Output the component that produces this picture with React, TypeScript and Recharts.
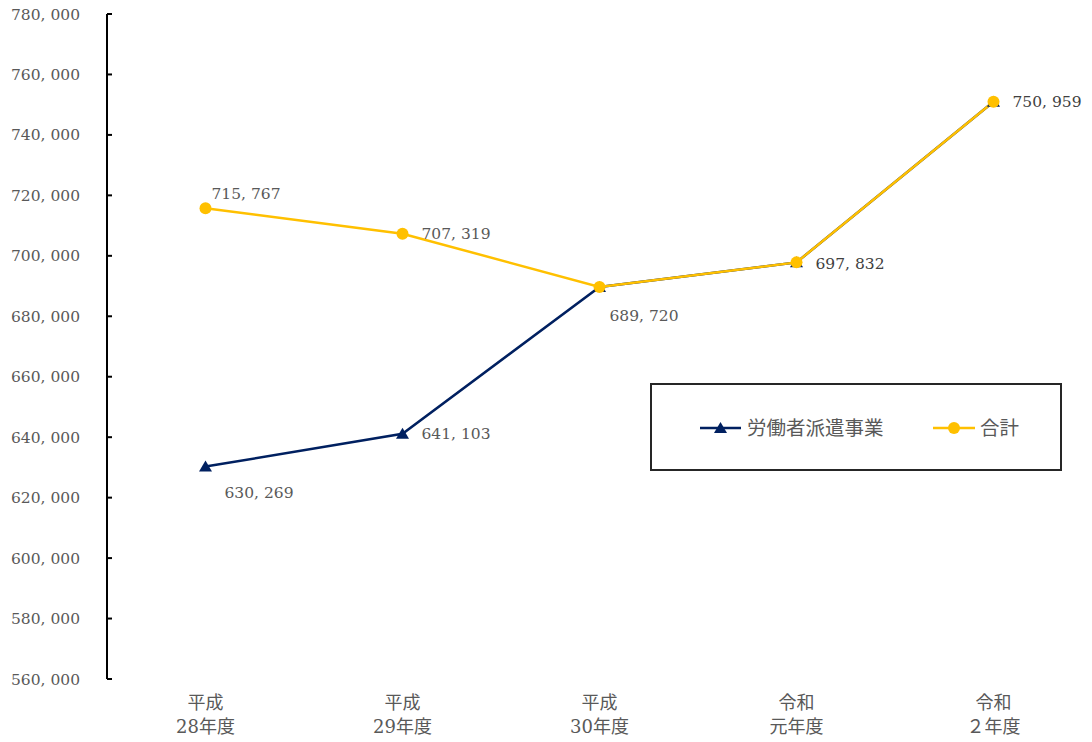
import React from "react";
import { LineChart, Line, XAxis, YAxis, Legend, LabelList } from "recharts";

const categories = ["平成\n28年度", "平成\n29年度", "平成\n30年度", "令和\n元年度", "令和\n２年度"];
const dispatchValues = [630269, 641103, 689720, 697832, 750959];
const totalValues = [715767, 707319, 689720, 697832, 750959];
const yTicks = [560000, 580000, 600000, 620000, 640000, 660000, 680000, 700000, 720000, 740000, 760000, 780000];
const seriesNames = { dispatch: "労働者派遣事業", total: "合計" };

const data = categories.map((c, i) => ({
  i,
  cat: c,
  dispatch: dispatchValues[i],
  total: totalValues[i],
}));

const NAVY = "#002060";
const GOLD = "#FFC000";
const SERIF = "'DejaVu Serif', 'Noto Sans CJK JP', serif";
const CJK = "'Noto Sans CJK JP', sans-serif";
const NUM_SIZE = 15.5;

const fmt = (v: number) => v.toLocaleString("en-US").replace(/,/g, ", ");

// label placement (offset from point) per series/index
const totalLabelPos: Record<number, { dx: number; dy: number; color: string }> = {
  0: { dx: 6, dy: -15, color: "#595959" },
  1: { dx: 19, dy: 0, color: "#595959" },
};
const dispatchLabelPos: Record<number, { dx: number; dy: number; color: string }> = {
  0: { dx: 19, dy: 26, color: "#595959" },
  1: { dx: 19, dy: 0, color: "#595959" },
  2: { dx: 10, dy: 29, color: "#595959" },
  3: { dx: 19, dy: 1, color: "#404040" },
  4: { dx: 19, dy: 0, color: "#404040" },
};

const makeLabel = (pos: Record<number, { dx: number; dy: number; color: string }>) => (props: any) => {
  const { x, y, value, index } = props;
  const p = pos[index];
  if (!p) return null;
  return (
    <text
      x={x + p.dx}
      y={y + p.dy}
      dy="0.36em"
      textAnchor="start"
      fill={p.color}
      fontSize={NUM_SIZE}
      fontFamily={SERIF}
    >
      {fmt(value)}
    </text>
  );
};

const Triangle = (props: any) => {
  const { cx, cy } = props;
  if (cx == null || cy == null) return null;
  return <path d={`M${cx},${cy - 6} L${cx - 6.5},${cy + 5} L${cx + 6.5},${cy + 5} Z`} fill={NAVY} />;
};

const Circle = (props: any) => {
  const { cx, cy } = props;
  if (cx == null || cy == null) return null;
  return <circle cx={cx} cy={cy} r={6} fill={GOLD} />;
};

const XTick = (props: any) => {
  const { x, y, payload } = props;
  const lines = categories[payload.value].split("\n");
  return (
    <text x={x} y={y} textAnchor="middle" fill="#595959" fontSize={18} fontFamily={SERIF}>
      <tspan x={x} dy={30}>{lines[0]}</tspan>
      <tspan x={x} dy={24}>{lines[1]}</tspan>
    </text>
  );
};

const LegendBox = () => (
  <div
    style={{
      width: 412,
      height: 88,
      boxSizing: "border-box",
      border: "2px solid #262626",
      background: "#fff",
      position: "relative",
    }}
  >
    <svg width={412} height={88} style={{ position: "absolute", left: -2, top: -2 }}>
      <line x1={50} x2={91} y1={45} y2={45} stroke={NAVY} strokeWidth={2.5} />
      <path d={`M70.5,39 L64,50 L77,50 Z`} fill={NAVY} />
      <text x={97} y={45} dy="0.35em" fill="#595959" fontSize={19.5} fontFamily={CJK}>
        {seriesNames.dispatch}
      </text>
      <line x1={283} x2={325} y1={45} y2={45} stroke={GOLD} strokeWidth={2.5} />
      <circle cx={304} cy={45} r={6} fill={GOLD} />
      <text x={330} y={45} dy="0.35em" fill="#595959" fontSize={19.5} fontFamily={CJK}>
        {seriesNames.total}
      </text>
    </svg>
  </div>
);

export default function App() {
  return (
    <div style={{ position: "absolute", left: 0, top: 0, width: 1092, height: 742, background: "#fff" }}>
      <LineChart width={1092} height={742} data={data} margin={{ top: 14, right: 0, bottom: 0, left: 0 }}>
        <XAxis
          xAxisId="frame"
          dataKey="i"
          type="number"
          domain={[-0.5, 4.5]}
          ticks={[-0.5, 0.5, 1.5, 2.5, 3.5, 4.5]}
          tick={false}
          tickSize={-4}
          height={0}
          axisLine={{ stroke: "#d9d9d9", strokeWidth: 2 }}
          tickLine={{ stroke: "#d9d9d9", strokeWidth: 1 }}
          allowDataOverflow
        />
        <XAxis
          xAxisId="main"
          dataKey="i"
          type="number"
          domain={[-0.5, 4.5]}
          ticks={[0, 1, 2, 3, 4]}
          tick={<XTick />}
          tickSize={0}
          tickMargin={0}
          tickLine={false}
          axisLine={false}
          height={63}
          interval={0}
          allowDataOverflow
        />
        <YAxis
          type="number"
          domain={[560000, 780000]}
          ticks={yTicks}
          interval={0}
          width={107}
          tickFormatter={fmt}
          tick={{ fill: "#595959", fontSize: NUM_SIZE, fontFamily: SERIF }}
          tickSize={-5}
          tickMargin={32}
          axisLine={{ stroke: "#000", strokeWidth: 2 }}
          tickLine={{ stroke: "#000", strokeWidth: 2 }}
          allowDataOverflow
        />
        <Legend
          layout="horizontal"
          verticalAlign="middle"
          align="center"
          content={<LegendBox />}
          wrapperStyle={{ position: "absolute", left: 650, top: 383, width: 412, height: 88 }}
        />
        <Line
          xAxisId="main"
          type="linear"
          dataKey="dispatch"
          name={seriesNames.dispatch}
          stroke={NAVY}
          strokeWidth={2.5}
          dot={<Triangle />}
          activeDot={false}
          isAnimationActive={false}
        >
          <LabelList dataKey="dispatch" content={makeLabel(dispatchLabelPos)} />
        </Line>
        <Line
          xAxisId="main"
          type="linear"
          dataKey="total"
          name={seriesNames.total}
          stroke={GOLD}
          strokeWidth={2.5}
          dot={<Circle />}
          activeDot={false}
          isAnimationActive={false}
        >
          <LabelList dataKey="total" content={makeLabel(totalLabelPos)} />
        </Line>
      </LineChart>
    </div>
  );
}
